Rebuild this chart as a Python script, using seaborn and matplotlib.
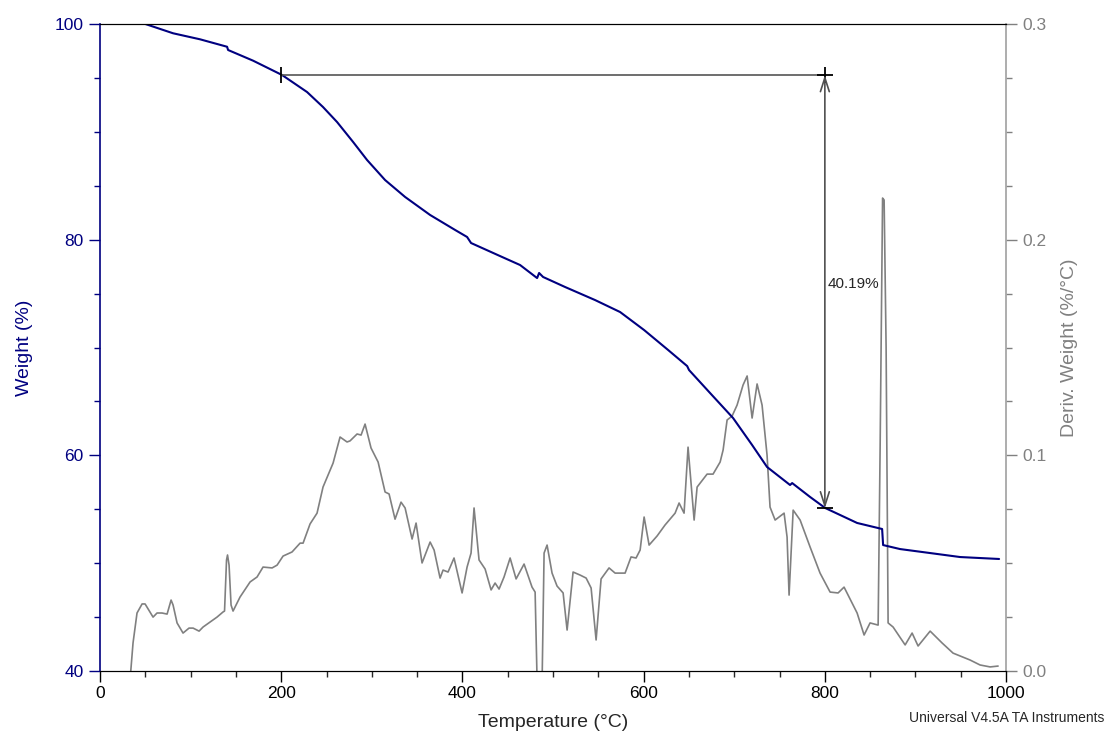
"""TGA curve: weight loss and derivative weight versus temperature."""
import numpy as np
import matplotlib
matplotlib.use("Agg")
import matplotlib.pyplot as plt
from matplotlib.ticker import MultipleLocator
import seaborn as sns

NAVY = "#000080"
GREY = "#808080"

# weight curve (temperature in degC, weight in %)
temp_weight = [50, 80.6, 110.4, 140.2, 141.3, 168.9, 200.9, 228.5, 246.1, 261.6,
               279.3, 294.7, 314.6, 336.7, 364.3, 391.9, 405.1, 409.5, 441.5, 463.6,
               482.4, 484.6, 489.0, 513.3, 546.4, 574.0, 600.5, 627.0, 648.0, 650.1,
               673.3, 698.7, 719.7, 736.2, 761.6, 763.9, 783.7, 800.3, 835.6, 863.2,
               864.3, 883.0, 916.2, 949.3, 992.3]
weight = [100.0, 99.14, 98.58, 97.89, 97.59, 96.60, 95.27, 93.69, 92.30, 90.91,
          89.06, 87.39, 85.53, 83.96, 82.29, 80.90, 80.25, 79.69, 78.48, 77.65,
          76.44, 76.91, 76.54, 75.61, 74.40, 73.29, 71.62, 69.77, 68.28, 67.91,
          65.78, 63.46, 60.96, 58.92, 57.25, 57.43, 56.14, 55.12, 53.73, 53.17,
          51.68, 51.31, 50.94, 50.57, 50.39]

# derivative weight curve (%/degC)
temp_deriv = [33.9, 36.4, 40.8, 46.4, 49.7, 58.5, 62.9, 68.4, 74.0, 78.4,
              80.6, 85.0, 91.6, 98.2, 102.7, 109.3, 113.7, 121.4, 129.1, 135.8,
              137.4, 139.6, 140.7, 142.4, 144.6, 146.8, 154.5, 165.6, 173.3, 179.9,
              189.9, 195.4, 202.0, 211.9, 220.8, 224.1, 231.8, 239.5, 246.1, 257.2,
              264.9, 272.6, 275.9, 283.7, 288.1, 292.5, 299.1, 306.9, 314.6, 319.0,
              325.6, 332.2, 336.7, 344.4, 348.8, 355.4, 364.3, 368.7, 375.3, 378.6,
              384.1, 390.7, 399.6, 405.1, 409.5, 412.8, 418.3, 425.0, 431.6, 436.0,
              440.4, 445.9, 452.6, 459.2, 468.0, 476.8, 480.2, 482.4, 487.9, 490.1,
              493.4, 498.9, 504.4, 511.1, 515.5, 522.1, 529.8, 536.5, 542.0, 547.5,
              553.0, 561.8, 568.5, 579.5, 586.1, 591.6, 596.1, 600.5, 606.0, 614.8,
              623.6, 634.7, 639.1, 644.6, 649.0, 655.7, 659.0, 670.0, 676.6, 684.4,
              687.7, 692.1, 697.6, 703.1, 709.7, 714.2, 719.7, 725.2, 730.7, 736.2,
              739.5, 745.1, 755.0, 758.3, 760.5, 765.0, 772.7, 783.7, 794.7, 805.8,
              814.6, 821.2, 835.6, 843.3, 849.9, 858.8, 861.0, 863.7, 865.4, 867.6,
              869.8, 875.3, 888.6, 896.3, 902.9, 916.2, 929.4, 941.5, 960.3, 971.3,
              982.4, 991.2]
deriv = [0.0, 0.0130, 0.0269, 0.0311, 0.0311, 0.0250, 0.0269, 0.0269, 0.0264, 0.0329,
         0.0306, 0.0223, 0.0176, 0.0199, 0.0199, 0.0185, 0.0204, 0.0227, 0.0250, 0.0274,
         0.0278, 0.0515, 0.0538, 0.0491, 0.0306, 0.0278, 0.0343, 0.0413, 0.0436, 0.0482,
         0.0478, 0.0491, 0.0533, 0.0552, 0.0593, 0.0593, 0.0682, 0.0732, 0.0853, 0.0964,
         0.1085, 0.1062, 0.1067, 0.1099, 0.1094, 0.1145, 0.1034, 0.0969, 0.0830, 0.0821,
         0.0704, 0.0783, 0.0756, 0.0612, 0.0686, 0.0501, 0.0598, 0.0561, 0.0431, 0.0468,
         0.0459, 0.0524, 0.0362, 0.0482, 0.0547, 0.0756, 0.0515, 0.0473, 0.0376, 0.0408,
         0.0380, 0.0436, 0.0524, 0.0427, 0.0496, 0.0389, 0.0366, -0.005, -0.005, 0.0547,
         0.0584, 0.0454, 0.0394, 0.0362, 0.0190, 0.0459, 0.0445, 0.0431, 0.0385, 0.0144,
         0.0427, 0.0478, 0.0454, 0.0454, 0.0529, 0.0524, 0.0561, 0.0714, 0.0584, 0.0626,
         0.0677, 0.0732, 0.0779, 0.0732, 0.1038, 0.0700, 0.0853, 0.0913, 0.0913, 0.0969,
         0.1025, 0.1164, 0.1182, 0.1233, 0.1326, 0.1368, 0.1173, 0.1331, 0.1233, 0.1001,
         0.0760, 0.0700, 0.0732, 0.0621, 0.0352, 0.0746, 0.0700, 0.0575, 0.0454, 0.0366,
         0.0362, 0.0389, 0.0269, 0.0167, 0.0223, 0.0213, 0.1038, 0.2193, 0.2184, 0.1502,
         0.0223, 0.0204, 0.0121, 0.0176, 0.0116, 0.0185, 0.0130, 0.0083, 0.0051, 0.0028,
         0.0019, 0.0023]

# weight-loss step between 200 and 800 degC
step_temps = [200, 800]
step_weights = [95.27, 55.08]
step_label = "40.19%"

sns.set_style("ticks")
plt.rcParams["font.family"] = ["Liberation Sans", "DejaVu Sans"]

fig = plt.figure(figsize=(11.08, 7.34), dpi=100)
ax = fig.add_axes([0.0903, 0.0858, 0.8177, 0.8815])
ax2 = ax.twinx()

sns.lineplot(x=temp_deriv, y=deriv, ax=ax2, color=GREY, linewidth=1.2,
             estimator=None, sort=False)
sns.lineplot(x=temp_weight, y=weight, ax=ax, color=NAVY, linewidth=1.5,
             estimator=None, sort=False)
ax.set_zorder(ax2.get_zorder() + 1)
ax.patch.set_visible(False)

# annotation of the step
ax.plot(step_temps, [step_weights[0]] * 2, color="#555555", linewidth=1.2)
ax.annotate("", xy=(step_temps[1], step_weights[1]), xytext=(step_temps[1], step_weights[0]),
            arrowprops=dict(arrowstyle="<->,head_length=1.0,head_width=0.32",
                            color="#505050", lw=1.2, shrinkA=0, shrinkB=0))
ax.plot([step_temps[0]], [step_weights[0]], marker="|", markersize=12, mew=1.3, color="black")
ax.plot([step_temps[1]], [step_weights[0]], marker="+", markersize=12, mew=1.3, color="black")
ax.plot([step_temps[1]], [step_weights[1]], marker="_", markersize=12, mew=1.3, color="black")
ax.text(step_temps[1] + 3.5, 75.9, step_label, ha="left", va="center", fontsize=11)

ax.set_xlim(0, 1000)
ax.set_ylim(40, 100)
ax2.set_ylim(0, 0.3)

ax.xaxis.set_major_locator(MultipleLocator(200))
ax.xaxis.set_minor_locator(MultipleLocator(50))
ax.yaxis.set_major_locator(MultipleLocator(20))
ax.yaxis.set_minor_locator(MultipleLocator(5))
ax2.yaxis.set_major_locator(MultipleLocator(0.1))
ax2.yaxis.set_minor_locator(MultipleLocator(0.025))
ax2.yaxis.set_major_formatter(matplotlib.ticker.FormatStrFormatter("%.1f"))

ax.tick_params(axis="x", which="major", length=8, width=1, pad=3, labelsize=12.5, colors="black")
ax.tick_params(axis="x", which="minor", length=4, width=1)
ax.tick_params(axis="y", which="major", length=8, width=1, pad=4, labelsize=12.5, colors=NAVY)
ax.tick_params(axis="y", which="minor", length=4, width=1, colors=NAVY)
ax2.tick_params(axis="y", which="major", length=8, width=1, pad=4, labelsize=12.5, colors=GREY)
ax2.tick_params(axis="y", which="minor", length=4, width=1, colors=GREY)

for a in (ax, ax2):
    a.spines["top"].set_color("black")
    a.spines["bottom"].set_color("black")
ax.spines["left"].set_color(NAVY)
ax.spines["left"].set_linewidth(1.2)
ax.spines["right"].set_visible(False)
ax2.spines["left"].set_visible(False)
ax2.spines["right"].set_color("#a0a0a0")
ax2.spines["right"].set_linewidth(1.2)

ax.set_xlabel("Temperature (°C)", fontsize=14, labelpad=9)
ax.set_ylabel("Weight (%)", fontsize=14, color=NAVY)
ax.yaxis.set_label_coords(-0.074, 0.5)
ax2.set_ylabel("Deriv. Weight (%/°C)", fontsize=14, color=GREY)
ax2.yaxis.set_label_coords(1.061, 0.5)

fig.text(0.997, 0.022, "Universal V4.5A TA Instruments", ha="right", va="center", fontsize=10)

fig.savefig("out.png", dpi=100)
